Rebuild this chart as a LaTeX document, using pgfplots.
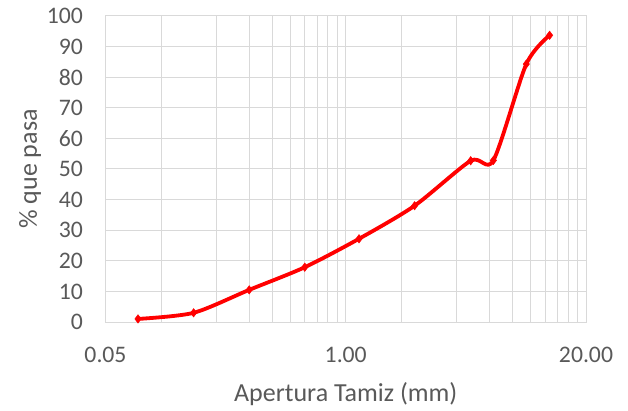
\documentclass[border=0pt]{standalone}
\usepackage{pgfplots}
\pgfplotsset{compat=1.18}
\usepackage{fontspec}
\setmainfont{Carlito}
\definecolor{gridgray}{HTML}{D9D9D9}
\definecolor{textgray}{HTML}{595959}
\definecolor{curvered}{HTML}{FF0000}
\begin{document}
\begin{tikzpicture}
\begin{axis}[
  name=ax,
  at={(0,0)}, anchor=south west,
  scale only axis,
  width=480.5bp, height=306bp,
  xmode=log,
  xmin=0.05, xmax=20,
  ymin=0, ymax=100,
  xtick={0.05,1,20},
  xticklabels={0.05,1.00,20.00},
  minor xtick={0.1,0.2,0.3,0.4,0.5,0.6,0.7,0.8,0.9,2,4,6,8,10,12,14,16,18},
  ytick={0,10,20,30,40,50,60,70,80,90,100},
  yticklabels={0,10,20,30,40,50,60,70,80,90,100},
  major tick length=0pt, minor tick length=0pt,
  grid=both,
  major grid style={gridgray, line width=1bp},
  minor grid style={gridgray, line width=1bp},
  axis line style={gridgray, line width=1bp},
  xticklabel style={font=\fontsize{23.7bp}{28bp}\selectfont, text=textgray, anchor=center, inner sep=0pt, yshift=-32.5bp},
  yticklabel style={font=\fontsize{23.7bp}{28bp}\selectfont, text=textgray, anchor=east, inner sep=0pt, xshift=-22.5bp},
  xlabel={Apertura Tamiz (mm)},
  ylabel={\% que pasa},
  xlabel style={font=\fontsize{26bp}{30bp}\selectfont, text=textgray, at={(axis description cs:0.5,-0.2614)}, anchor=base, inner sep=0pt},
  ylabel style={font=\fontsize{26bp}{30bp}\selectfont, text=textgray, at={(axis description cs:-0.1426,0.5)}, anchor=base, inner sep=0pt, rotate=0},
  clip=false,
]
% grading curve: sieve opening (mm) vs. percent passing
\addplot[curvered, line width=3.8bp, smooth, tension=0.45, mark=diamond*, mark size=4.2bp,
  mark options={fill=curvered, draw=curvered, line width=0.5bp}]
  coordinates {
    (0.075,1.0)
    (0.15,3.0)
    (0.3,10.5)
    (0.6,17.9)
    (1.18,27.2)
    (2.36,38.0)
    (4.75,52.7)
    (6.3,52.8)
    (9.5,84.3)
    (12.7,93.7)
  };
\end{axis}
\pgfresetboundingbox
\path (ax.south west) ++(-105.5bp,-89bp) rectangle ++(628bp,411bp);
\end{tikzpicture}
\end{document}
